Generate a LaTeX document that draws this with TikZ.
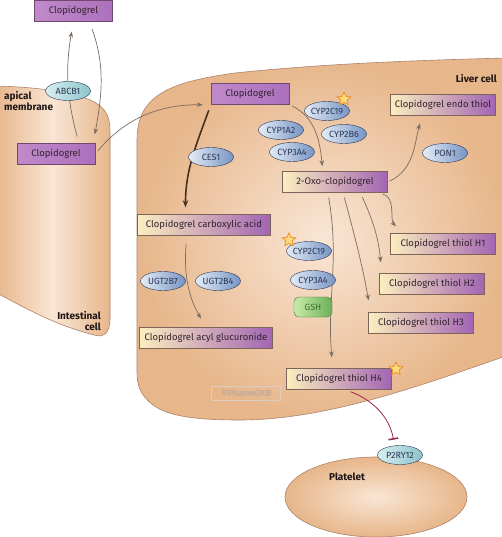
\documentclass[tikz,border=0pt]{standalone}
\usepackage{fontspec}
\setmainfont{Fira Sans}
\usetikzlibrary{arrows.meta,shapes.geometric}

\definecolor{tanD}{RGB}{231,182,138}
\definecolor{tanL}{RGB}{249,230,213}
\definecolor{cellline}{RGB}{172,132,108}
\definecolor{drugA}{RGB}{192,138,202}
\definecolor{drugB}{RGB}{172,112,188}
\definecolor{drugline}{RGB}{112,72,112}
\definecolor{cpdA}{RGB}{251,238,190}
\definecolor{cpdB}{RGB}{162,100,180}
\definecolor{cpdline}{RGB}{125,100,90}
\definecolor{enzA}{RGB}{228,236,246}
\definecolor{enzB}{RGB}{118,148,196}
\definecolor{enzline}{RGB}{45,55,85}
\definecolor{trA}{RGB}{215,238,240}
\definecolor{trB}{RGB}{140,196,202}
\definecolor{gshA}{RGB}{200,235,170}
\definecolor{gshB}{RGB}{108,176,88}
\definecolor{gshline}{RGB}{60,110,50}
\definecolor{burstfill}{RGB}{252,218,125}
\definecolor{burstline}{RGB}{236,148,40}
\definecolor{arrowc}{RGB}{122,108,98}
\definecolor{brownc}{RGB}{72,48,32}
\definecolor{blockc}{RGB}{150,40,72}
\definecolor{txt}{RGB}{52,36,46}
\definecolor{labc}{RGB}{30,22,22}
\definecolor{markc}{RGB}{196,170,155}

\pgfdeclarelayer{cells}
\pgfdeclarelayer{links}
\pgfsetlayers{cells,links,main}

\tikzset{
  cell/.style={draw=cellline, line width=0.6pt},
  drug/.style={draw=drugline, left color=drugA, right color=drugB, text=txt,
    minimum width=78pt, minimum height=21pt, inner sep=2pt},
  cpd/.style={draw=cpdline, left color=cpdA, right color=cpdB, text=txt,
    minimum width=105pt, minimum height=21pt, inner sep=2pt},
  enz/.style={ellipse, draw=enzline, left color=enzA, right color=enzB, text=enzline,
    minimum width=45pt, minimum height=19pt, inner xsep=-4pt, inner ysep=0pt,
    font=\fontsize{9}{10}\selectfont},
  trans/.style={enz, left color=trA, right color=trB},
  gsh/.style={draw=gshline, rounded corners=5pt, left color=gshA, right color=gshB,
    text=gshline, minimum width=38pt, minimum height=20pt, font=\fontsize{9}{10}\selectfont},
  burst/.style={star, star points=5, star point ratio=2.1, fill=burstfill, draw=burstline,
    line width=0.8pt, minimum size=14pt, inner sep=0pt},
  celltext/.style={font=\fontsize{10}{11}\selectfont\bfseries, text=labc, align=left, inner sep=0pt},
  wmark/.style={draw=markc!60!white, line width=0.8pt, text=markc, font=\fontsize{9}{10}\selectfont\bfseries,
    minimum width=69pt, minimum height=14pt, inner sep=1pt},
  conv/.style={draw=arrowc, line width=0.7pt, -{Stealth[length=6pt,width=4.5pt]}},
  hydro/.style={draw=brownc, line width=1.6pt, -{Stealth[length=7pt,width=5.5pt]}},
  block/.style={draw=blockc, line width=0.8pt, -{Bar[width=10pt,line width=1.6pt]}}
}

\begin{document}
\begin{tikzpicture}[x=1pt, y=-1pt, font=\fontsize{9.5}{10}\selectfont]
  \useasboundingbox (0,0) rectangle (502,537);

  % cells
  \begin{pgfonlayer}{cells}
    \path[cell, left color=tanD, right color=tanD, middle color=tanL]
      (-5,86) .. controls (40,87) and (80,93) .. (96,103)
      .. controls (107,110) and (110,118) .. (110,132) -- (110,318)
      .. controls (110,333) and (104,338) .. (94,335)
      .. controls (55,325) and (25,308) .. (-5,292) -- cycle;
    \path[cell, inner color=tanL, outer color=tanD]
      (137,372) -- (137,140) .. controls (137,95) and (170,82) .. (235,73)
      .. controls (330,63) and (430,60) .. (506,58) -- (506,356)
      .. controls (430,382) and (330,420) .. (240,420)
      .. controls (205,420) and (170,418) .. (153,405)
      .. controls (140,395) and (137,385) .. (137,372) -- cycle;
    \path[cell, inner color=tanL, outer color=tanD] (376,497) ellipse (91 and 40);
  \end{pgfonlayer}

  % intestinal cell
  \node[drug] (topclop) at (73.5,11) {Clopidogrel};
  \node[trans] (abcb1) at (68,91) {ABCB1};
  \node[drug] (intclop) at (56,154) {Clopidogrel};
  \node[celltext, anchor=north west] (apical) at (4,91) {apical\\membrane};
  \node[celltext, align=right, anchor=south east] (intlbl) at (101,331) {Intestinal\\cell};

  % liver cell
  \node[celltext, anchor=east] (livlbl) at (497,79) {Liver cell};
  \node[drug] (livclop) at (250,94) {Clopidogrel};
  \node[enz] (cyp2c19a) at (327,111) {CYP2C19};
  \node[burst] (burst1) at (344,99) {};
  \node[enz] (cyp1a2) at (281,130) {CYP1A2};
  \node[enz] (cyp2b6) at (344,134) {CYP2B6};
  \node[enz] (cyp3a4a) at (292,152) {CYP3A4};
  \node[enz] (ces1) at (211,157) {CES1};
  \node[enz] (pon1) at (445,153) {PON1};
  \node[cpd] (oxo) at (335,182) {2-Oxo-clopidogrel};
  \node[cpd] (endo) at (443,105) {Clopidogrel endo thiol};
  \node[cpd, minimum width=133pt] (carb) at (204,225) {Clopidogrel carboxylic acid};
  \node[enz] (ugt2b7) at (163,281) {UGT2B7};
  \node[enz] (ugt2b4) at (218,281) {UGT2B4};
  \node[cpd, minimum width=133pt] (acyl) at (206,338) {Clopidogrel acyl glucuronide};
  \node[enz] (cyp2c19b) at (309,251) {CYP2C19};
  \node[burst] (burst2) at (289,240) {};
  \node[enz] (cyp3a4b) at (313,280) {CYP3A4};
  \node[gsh] (gsh) at (313,307) {GSH};
  \node[cpd] (h1) at (443,244) {Clopidogrel thiol H1};
  \node[cpd] (h2) at (432,284) {Clopidogrel thiol H2};
  \node[cpd] (h3) at (421,323) {Clopidogrel thiol H3};
  \node[cpd] (h4) at (339,379) {Clopidogrel thiol H4};
  \node[burst] (burst3) at (396,369) {};
  \node[wmark] (pgkb) at (246,393) {©PharmGKB};

  % platelet
  \node[trans] (p2ry12) at (400,455) {P2RY12};
  \node[celltext] (platlbl) at (347,477) {Platelet};

  \begin{pgfonlayer}{links}
    \path (intclop.25) edge[conv, shorten <=7pt, shorten >=10pt, out=105, in=-100] (topclop.south);
    \path (topclop.-34) edge[conv, shorten <=8pt, shorten >=9pt, out=-70, in=80] (intclop.16);
    \path (intclop.east) edge[conv, shorten <=4pt, shorten >=8pt, out=50, in=180] (livclop.south west);
    \path (livclop.south west) edge[hydro, shorten <=6pt, shorten >=7pt, out=-110, in=90] (carb.150);
    \path (livclop.south east) edge[conv, shorten <=3pt, shorten >=5pt, out=-25, in=95] (oxo.139);
    \path (oxo.east) edge[conv, shorten <=2pt, shorten >=8pt, out=25, in=-105] (endo.207);
    \path (carb.212) edge[conv, shorten <=8pt, shorten >=10pt, out=-95, in=120] (acyl.north);
    \path (oxo.-14) edge[conv, shorten <=5pt, shorten >=10pt, out=-15, in=135] (h1.165);
    \path (oxo.-23) edge[conv, shorten <=5pt, shorten >=11pt, out=-65, in=95] (h2.168);
    \path (oxo.-53) edge[conv, shorten <=5pt, shorten >=12pt, out=-75, in=100] (h3.168);
    \path (oxo.-124) edge[conv, shorten <=5pt, shorten >=11pt, out=-80, in=95] (h4.120);
    \path (h4.-61) edge[block, shorten <=6pt, shorten >=6pt, out=-20, in=100] (p2ry12.120);
  \end{pgfonlayer}
\end{tikzpicture}
\end{document}
